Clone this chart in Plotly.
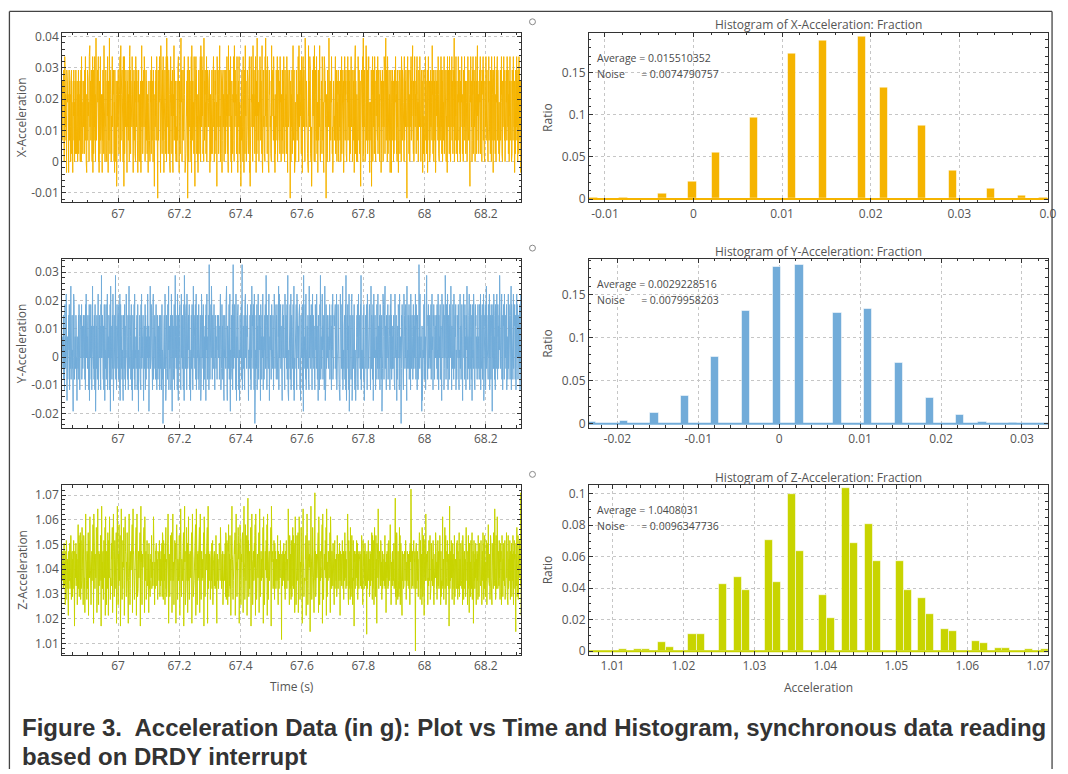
import plotly.graph_objects as go

# ------------------------------------------------------------------ data
T_START, T_END = 66.8175, 68.3150

X_LEVELS = [-0.0117, -0.0079, -0.0035, 0.0000, 0.0025, 0.0068, 0.0111, 0.0146,
            0.0190, 0.0215, 0.0258, 0.0293, 0.0336, 0.0371, 0.0395]
X_CODES = (
    "7a5896b437c8a69572b3a869427b5a8963a7b485629a7b5836a94b7485a6397b4a85693a7b3c68574a96"
    "7a4b86c5937295b6a7483c8d68a59b7436c28b4a76c5937ea5976b84c362"
    "7a48c5b6937295b6a4d875366b8493a7c528a57e84b6963748c6a95b7382b6375a9184a6"
    "6b8a4795c37d59a8b6743c717c49a86b53728a6b59743cd6b4a9786c5362"
    "68b5a7493c8a6b7592a8b4369735a2b8d67a4958b6c7a3948b5a74694258a75936a8b4c7596a3b87415"
    "96a7b58c43707b5a89c4632da8674b95c3725a9b8647c3e66c7a48b59372"
    "5c8a7946b32897d5b68a473663a85b9c7428a7496e85b3578b57a6c942634968a7b05c73"
    "87b6a9543c2db59a6874c3617a8c6b45937269b47a58c3d6a6c97b4853e7"
    "5a9b6847c3a5b9768a4b7259364a8b475a9c6b3874a9b5681c7a6b948a5d6739b8a425a7b6983a5b64"
    "8b6a7c54932d57a9b68c4372a7649b8c53d66b8a7945c37297a6c4b85371"
    "7a5b9643c8a269b4d87a3556b8a64795c2315a7c8b6943d786b5a497c326a4e79b5863a7"
    "7c8b5a964d32a59b67483c7e86a7b4c593625b9a8674c3d77a6b85c49372"
    "9476b8a5c3a6b9875a4c8b6397a5b84a6c9735b8a6947c5a2b8697a4b805a3967b4a8d5a6b72948357"
    "b8a5697c43d66a9b7854c372a7c86b5493e79b6a57843c2d78a6c9b453616a5b97c843d7"
    "39b6a5c847827b58a6d943566a94c7b5832ac5b8a67094734b7a96e583a695a8c7b46237"
    "a8675b9c4a7b6385a9b437a6958b3a7c4695b8a27b6c85a9b4736a8c5b967a3b8495c6a7b3849a5b26"
    "b6d4a87395637c9a5b648a2158b7a96c3e47a6b93748d5c69b4a76c583266875b1a94c3a"
    "6b9a4c8573a7b96a5c4b8a6937b5a824a69b7538a6c9b4a7e85b6a3c947a8b5962a7b428a5b6973a48"
    "b5a7c8694a3b6a8257b9a4687b3c9a5b6a8473c5b9a6b8720a7c6b5a4983b9a6c5a7b8d694a3b5c869"
    "7a4b9c6a5837b8a6c4953a7b6a825b4976a3b8c5a9467b2a8c6b5a3947b6a8c5d9a4b7386a5b9246a7"
    "8b6a5c9473a8b5a7c6b49a3b6857c4a9b6a8375b2c8a6b9a4c7583b6a9c5a74b8a6e3b95a7c4b6a839"
    "5c8a7b9463a6b8c5a4973b8a6c5b7a4968a3b7c6a5b9841a8c7b6a35b9c4a8b6a7395c8a4b6d7a5948"
    "a6b8c4957a3b6a9c5b7483a8b6c5a9b7463a8c5b6a94b7a3c8596b2a8b5c7a4693b8a6c5b7a948365"
    "7b5a9c8463a6b8c7a5b3946a8b5c7a6b4983a7c5b8a6394b7a5c8b6a2974b8a6c5a93b7a4c6b85a927"
)

Y_LEVELS = [-0.0235, -0.0192, -0.0154, -0.0116, -0.0079, -0.0041, -0.0003, 0.0025,
            0.0072, 0.0110, 0.0148, 0.0186, 0.0223, 0.0251, 0.0289, 0.0327]
Y_CODES = (
    "67859a46739b5867c6a2784965a7b36857d4968a57316c9b476857a946287659a4b7638a5967b476958a"
    "76a58493b6c767859a4637b25a76b849367d768594a63b716795a84b7c3657a68943b6e7"
    "67a584937b627659b48a6c37586a7934b1d696748a5c6273a7658e49736b6795a4b863c2"
    "6b7859a47632a6758b49376c796548a3b7d665a7849b37627a6958b4c37668579a34b761"
    "7658a9473b6c58697a4286957b3a6478596c7a5914867d5a6b97853a7c46579a6847b5936a7485967a38"
    "75a6839b47608649a57c6b235a7864b97d3669587a34c6b17a69548b376e86a57943c6b2"
    "a5768b94736c6795a8437b2e7865a4b93c76569a78b4376276a58b9436d76a7859b47c36"
    "58a6749b36857a9264c7869a5b37648596a2b79c68457a93f6748a5b6d7946a8579b6437a6958674a597"
    "a6794b85c73657b6948a63276a8795b4d6329675a8b46c31768a594b37f65a96b7843c62"
    "786a5b9436725a7698b47f3667958a43b7c6a67598b346277568a94b376d69a758b43c70"
    "9476a58b3697c5486a7952b6784a96c5378469a7b56e89374a6b59c72687a5946b8675a9364c7a5867b4"
    "a57694b8d36c67a8b594362a8b6a75943c676a957b48e36275a96b48c36a68759b43d26"
    "657a89b43c7676958a4b73625a6789b4371e6a785b94c3677965a84b3d6768a57b9437c6"
    "6a8597436b9785c6a4792a58637b9e4685a6c79485a736d9274b8569a678659a7b4687a5396b7c4865a7"
    "9a6b7584c37667b5a943826ca8657b94d3c67596a48b3e6286a7b5943c165a6984b7c236"
    "a7586b9437625769a8b437c66a7859b4e3767658a94b326769a578b43c76765a8b94736d"
    "75a6948b27c5869a637486b9a5c479685a3b76948a1657c9b847a6d59763a8679b4567a9836b5c7a4695"
    "8659a74b3c6869a5274896b7a53c6978405a9b687436c7a8596b7a42d5976a85b4697a3c6759a8647b56"
    "a6795c84b6973a58467f9b5c6a7846192857a6b94c76839a5e8674a9b5676a8597b4a6c7583a9b6748a6"
    "7968a5b476c93a5687b4a9652c7a8694b357a6e8946b7a5c83a6794b5a86d7a39657b8a4c6759a8b3764"
    "5a786b9437a6c5894a7b6528a9c67a4b5863a97d6b4875a6c93a7b5846a2b9675c8a4736b9a58674a9b5"
    "8674b9a5c3a6958b47a6c2857a9b364d5a87694b7a6c3958a4b7861a6b95c7a4863b9a57c6a4b8956a7e"
    "69a57b8c4a6375b9a4c8676a59b3a8746c59ba7846a5d3b9a6748c5a97b64a8359c6b7a4a86957b3a6c8"
)

Z_LEVELS = [1.0069, 1.01151, 1.01367, 1.01471, 1.01697, 1.01810, 1.02128, 1.02242,
            1.02561, 1.02773, 1.02887, 1.03211, 1.03324, 1.03535, 1.03648, 1.03964,
            1.04076, 1.04292, 1.04405, 1.04612, 1.04725, 1.05049, 1.05162, 1.05365,
            1.05478, 1.05689, 1.05802, 1.06122, 1.06235, 1.06441, 1.06549, 1.06874,
            1.07091, 1.0724]
Z_CODES = (
    "hdkjbeilcdh8jk9mdhbiea6jkhdlbcenh9jdkaibhmjd4kbhelcjdi8hkqbenaljco9mbhdpkai8jnlbe7kdsi"
    "hd9kbjio6mlefrjfa8chkdlnqi5skdhbjgeipm7l9tia8kchjdenl4oudhbjk9fmilep6r"
    "hd8kgbjoi6mlerfh9ekclinp7dhskdaimbfjho5ekuig8jcqldhn4betek9hbmigpj6dlr"
    "kjcahdoigl5enshd8bjkfimlq7etjkch9dilgnp6bsiadbhkejlmo4fuhkc8djgilnpe7r"
    "jdhk9ibmcedjh7lkbdaihjenbkdhcjrimd8hbkjeldcih9kbjhdmeaicjkdhlaonb9mekdj8lhpbiacnkgsl5d"
    "jhafcndkio7cesdhg8kbmjil5epqlc9ihdfjne6bktmbaihdkgjo4dluhk8jcfpidl7enr"
    "dj9hbkfeimo5lskiahcdjlgnq6ethb8jdkeilmp7fsjc9hkdigelno4rdkabhjfmilp5eu"
    "bkhdjei9chkdlbjm8dhiekcjbhdnak5hjdiebkcljhdpmeibhjdk8bchjidklaon9bmdh8lkqaejcnbi6dkmuj"
    "ib9dhgkmjo6elsfhacekpnil5dhqkd8bjhmiof7ekuhg9cqidjln6bevjmaekbhigp4dls"
    "ih8cjkdelgnq6skd9bhjfeimo7ltjcahkdigelnp5rhb8djkfimleq6sic9hjkdgelnp4u"
    "ehjdkbicmh9ldjkbeihdjnc8khbdjiemkhd1jbchkdilejbh9kdjmcbhiedtkao8nlbjd9mhakepcnbdlj7ar"
    "ik8cfnhjdo7cerld9bhgpkji5emthfacejdlin6bksod8bhkmgji3dlujh9ceplkfi7dnw"
    "dkabhjefilmo7rjh8ckdgeilnq5skb9dhjfimlep6tiachdkjgelno7r"
    "djhbkieclhdj8kmbeihdjacnkhbejdilh6kbdjechmidbk9jhdoelkbihcjdsna8mbldk9pjachnbe8kmdj4k"
    "hkbdjiemhcl9kdjbhiekdcjhbnkdi8mhejbkdlhcijd2kbhejmdhiabkcjhdkoa9nbldm8jpkcahnbi5ldjet"
    "ibdhkjecmldh9jkbiedhjcknbdh7ijekhdblcmjhdkqie8bhdjkcihdlbjemvan8bolcj9kdmahpbn8jldkc6"
    "kdhjbecikhdlmj9bhdkiecjhbdk8lhjxidbekchjdmbihkd0jelcbhkdiajhkona9mbldj8pkahcnb6elmjds"
    "dljhbk8eicmhdjn9kbeldhicjmka8bhdjeolkbh9dimcjkbhdnle8kajdbmrchi9kdjpbln8aekhmdcjbi4lu"
    "bjdkhmei9clbhdj8nkaeihdbljmc9kbhdoaeicjlkdhbm8nej9dhkbcialpjmdh8kbnej7lcdhamkbio9jdk5"
    "kmdhbjelc8ihkdj9nbeaklhdjcmib8hkdoje9lbnkcahdmj8ibleqkdhcj9bnmead8lkjhboicdtjk9anbehr"
    "hbjdkcmei9lhdk8bnjeaidlkhcm9jbdhoekal8nbcidjmh9kbelacjdnh8kbmiejd3lchpakbn9djemhlkcw6"
)

# histograms (bin centre, fraction)
HX_CENTERS = [-0.0113, -0.0079, -0.0035, -0.0001, 0.0025, 0.0068, 0.0111, 0.0146,
              0.0190, 0.0215, 0.0258, 0.0293, 0.0336, 0.0371, 0.0395]
HX_RATIO = [0.0015, 0.0015, 0.0070, 0.0204, 0.0548, 0.0963, 0.1730, 0.1880,
            0.1934, 0.1330, 0.0873, 0.0333, 0.0129, 0.0035, 0.0015]
HY_CENTERS = [-0.0232, -0.0192, -0.0154, -0.0116, -0.0079, -0.0041, -0.0003, 0.0025,
              0.0072, 0.0110, 0.0148, 0.0186, 0.0223, 0.0251, 0.0289]
HY_RATIO = [0.0015, 0.0038, 0.0124, 0.0328, 0.0772, 0.1307, 0.1827, 0.1849,
            0.1284, 0.1337, 0.0704, 0.0294, 0.0098, 0.0025, 0.0012]
HZ_CENTERS = [1.01151, 1.01367, 1.01471, 1.01697, 1.01810, 1.02128, 1.02242, 1.02561,
              1.02773, 1.02887, 1.03211, 1.03324, 1.03535, 1.03648, 1.03964, 1.04076,
              1.04292, 1.04405, 1.04612, 1.04725, 1.05049, 1.05162, 1.05365, 1.05478,
              1.05689, 1.05802, 1.06122, 1.06235, 1.06441, 1.06549, 1.06874, 1.07091]
HZ_RATIO = [0.0010, 0.0010, 0.0012, 0.0057, 0.0023, 0.0107, 0.0109, 0.0427,
            0.0471, 0.0387, 0.0704, 0.0441, 0.0996, 0.0635, 0.0357, 0.0212,
            0.1034, 0.0689, 0.0807, 0.0574, 0.0570, 0.0387, 0.0338, 0.0237,
            0.0141, 0.0128, 0.0063, 0.0050, 0.0022, 0.0021, 0.0010, 0.0010]

STATS = {
    "X": ("0.015510352", "0.0074790757"),
    "Y": ("0.0029228516", "0.0079958203"),
    "Z": ("1.0408031", "0.0096347736"),
}

X_YTICKS = [-0.01, 0, 0.01, 0.02, 0.03, 0.04]
X_YTEXT = ["-0.01", "0", "0.01", "0.02", "0.03", "0.04"]
Y_YTICKS = [-0.02, -0.01, 0, 0.01, 0.02, 0.03]
Y_YTEXT = ["-0.02", "-0.01", "0", "0.01", "0.02", "0.03"]
HX_XTICKS = [-0.01, 0, 0.01, 0.02, 0.03, 0.04]
HX_XTEXT = ["-0.01", "0", "0.01", "0.02", "0.03", "0.0"]
HY_XTICKS = [-0.02, -0.01, 0, 0.01, 0.02, 0.03]
HY_XTEXT = ["-0.02", "-0.01", "0", "0.01", "0.02", "0.03"]

CAPTION_1 = "Figure 3.  Acceleration Data (in g): Plot vs Time and Histogram, synchronous data reading"
CAPTION_2 = "based on DRDY interrupt"

# ------------------------------------------------------------------ styling
W, H = 1068, 774
FONT = "Open Sans"
C_X, C_Y, C_Z = "#F5B400", "#72ACD9", "#C8D400"
TXT = "#555555"


def px(x):
    return x / W


def py(y):
    return 1 - y / H


L_DOM = [px(62.7), px(525.5)]
R_DOM = [px(594.0), px(1056.8)]
ROWS = [(28.0, 200.0), (257.3, 428.5), (486.5, 658.3)]


def decode(codes, levels, base):
    return [levels[int(c, base)] for c in codes]


def series_t(n):
    step = (T_END - T_START) / (n - 1)
    return [T_START + i * step for i in range(n)]


def axis(domain, rng, anchor, dtick=None, minor=None, vals=None, text=None, tick0=None):
    a = dict(domain=domain, range=rng, anchor=anchor, showline=True, linecolor="#333333",
             linewidth=1, mirror="allticks", ticks="inside", ticklen=4, tickwidth=1,
             tickcolor="#333333", showgrid=True, gridcolor="#c6c6c6", gridwidth=1,
             griddash="3px,3px", zeroline=False, fixedrange=True,
             tickfont=dict(family=FONT, size=12, color=TXT))
    if vals is not None:
        a.update(tickmode="array", tickvals=vals, ticktext=text)
    else:
        a.update(tickmode="linear", dtick=dtick, tick0=tick0 if tick0 is not None else 0)
    if minor is not None:
        a["minor"] = dict(dtick=minor, tick0=0, ticks="inside", ticklen=2.5,
                          tickcolor="#333333", showgrid=False)
    return a


fig = go.Figure()

for i, (codes, levels, base, col) in enumerate([
        (X_CODES, X_LEVELS, 16, C_X),
        (Y_CODES, Y_LEVELS, 16, C_Y),
        (Z_CODES, Z_LEVELS, 36, C_Z)]):
    vals = decode(codes, levels, base)
    fig.add_trace(go.Scatter(x=series_t(len(vals)), y=vals, mode="lines",
                             line=dict(color=col, width=1),
                             xaxis="x" if i == 0 else f"x{2 * i + 1}",
                             yaxis="y" if i == 0 else f"y{2 * i + 1}",
                             showlegend=False, hoverinfo="skip"))

HIST = [
    (HX_CENTERS, HX_RATIO, 0.00094, C_X, [-0.0118, 0.0400], 2),
    (HY_CENTERS, HY_RATIO, 0.00103, C_Y, [-0.0235, 0.0332], 4),
    (HZ_CENTERS, HZ_RATIO, 0.00113, C_Z, [1.0067, 1.07135], 6),
]
for cen, rat, wid, col, xr, k in HIST:
    fig.add_trace(go.Scatter(x=xr, y=[0, 0], mode="lines", line=dict(color=col, width=2),
                             xaxis=f"x{k}", yaxis=f"y{k}", showlegend=False,
                             hoverinfo="skip"))
    fig.add_trace(go.Bar(x=cen, y=rat, width=wid, marker=dict(color=col,
                         line=dict(color="rgba(255,255,255,0.55)", width=1)),
                         xaxis=f"x{k}", yaxis=f"y{k}", showlegend=False,
                         hoverinfo="skip"))

TR = [T_START, T_END]
layout = dict(
    width=W, height=H, margin=dict(l=0, r=0, t=0, b=0), autosize=False,
    paper_bgcolor="white", plot_bgcolor="white", bargap=0, showlegend=False,
    font=dict(family=FONT, size=12, color=TXT),
)
rows_y = [[py(b), py(t)] for t, b in ROWS]
layout["xaxis"] = axis(L_DOM, TR, "y", dtick=0.2, tick0=67, minor=0.05)
layout["yaxis"] = axis(rows_y[0], [-0.01305, 0.04126], "x", minor=0.002,
                       vals=X_YTICKS, text=X_YTEXT)
layout["xaxis3"] = axis(L_DOM, TR, "y3", dtick=0.2, tick0=67, minor=0.05)
layout["yaxis3"] = axis(rows_y[1], [-0.0251, 0.0347], "x3", minor=0.002,
                        vals=Y_YTICKS, text=Y_YTEXT)
layout["xaxis5"] = axis(L_DOM, TR, "y5", dtick=0.2, tick0=67, minor=0.05)
layout["yaxis5"] = axis(rows_y[2], [1.00535, 1.07398], "x5", dtick=0.01, tick0=1.0,
                        minor=0.002)
layout["xaxis2"] = axis(R_DOM, HIST[0][4], "y2", minor=0.002, vals=HX_XTICKS, text=HX_XTEXT)
layout["yaxis2"] = axis(rows_y[0], [-0.004, 0.1978], "x2", dtick=0.05, minor=0.01)
layout["xaxis4"] = axis(R_DOM, HIST[1][4], "y4", minor=0.002, vals=HY_XTICKS, text=HY_XTEXT)
layout["yaxis4"] = axis(rows_y[1], [-0.0049, 0.1915], "x4", dtick=0.05, minor=0.01)
layout["xaxis6"] = axis(R_DOM, HIST[2][4], "y6", dtick=0.01, tick0=1.0, minor=0.002)
layout["yaxis6"] = axis(rows_y[2], [-0.0023, 0.10546], "x6", dtick=0.02, minor=0.005)
fig.update_layout(**layout)

ann = []


def text(x, y, s, size=12, angle=0, xanchor="center", color=TXT, family=FONT, **kw):
    ann.append(dict(x=px(x), y=py(y), xref="paper", yref="paper", text=s,
                    showarrow=False, textangle=angle, xanchor=xanchor, yanchor="middle",
                    font=dict(family=family, size=size, color=color, **kw)))


for (t, b), name in zip(ROWS, ["X", "Y", "Z"]):
    mid = (t + b) / 2
    text(22, mid, f"{name}-Acceleration", angle=-90)
    text(552, mid, "Ratio", angle=-90)
    text(825.4, t - 8, f"Histogram of {name}-Acceleration: Fraction")
    avg, noise = STATS[name]
    text(600, t + 25.5, f"Average = {avg}", size=10.5, xanchor="left", color="#4a4a4a")
    text(600, t + 41.5, "Noise" + "\u00a0" * 6 + f"= {noise}", size=10.5, xanchor="left",
         color="#4a4a4a")

text(294, 690, "Time (s)")
text(825.4, 691, "Acceleration")
text(20, 732, CAPTION_1, size=24, xanchor="left", color="#333333",
     family="Liberation Sans, Arial", weight="bold")
text(20, 761, CAPTION_2, size=24, xanchor="left", color="#333333",
     family="Liberation Sans, Arial", weight="bold")
fig.update_layout(annotations=ann)

shapes = []
for (t, b) in ROWS:
    cy = t - 11
    shapes.append(dict(type="circle", xref="paper", yref="paper",
                       x0=px(534), x1=px(540), y0=py(cy + 3), y1=py(cy - 3),
                       line=dict(color="#888888", width=1)))
frame = dict(color="#444444", width=1.3)
shapes.append(dict(type="line", xref="paper", yref="paper", x0=px(9.5), x1=px(1061),
                   y0=py(6.5), y1=py(6.5), line=frame))
shapes.append(dict(type="line", xref="paper", yref="paper", x0=px(9.5), x1=px(9.5),
                   y0=py(6.5), y1=py(774), line=frame))
shapes.append(dict(type="line", xref="paper", yref="paper", x0=px(1061), x1=px(1061),
                   y0=py(6.5), y1=py(774), line=frame))
fig.update_layout(shapes=shapes)

POST = """
(function(){
  var de = document.documentElement, b = document.body;
  de.style.margin = '0'; de.style.padding = '0'; de.style.overflow = 'hidden';
  b.style.margin = '0'; b.style.padding = '0'; b.style.overflow = 'hidden';
})();
"""

fig.write_html("out.html", config={"displayModeBar": False, "responsive": False},
               post_script=POST)
